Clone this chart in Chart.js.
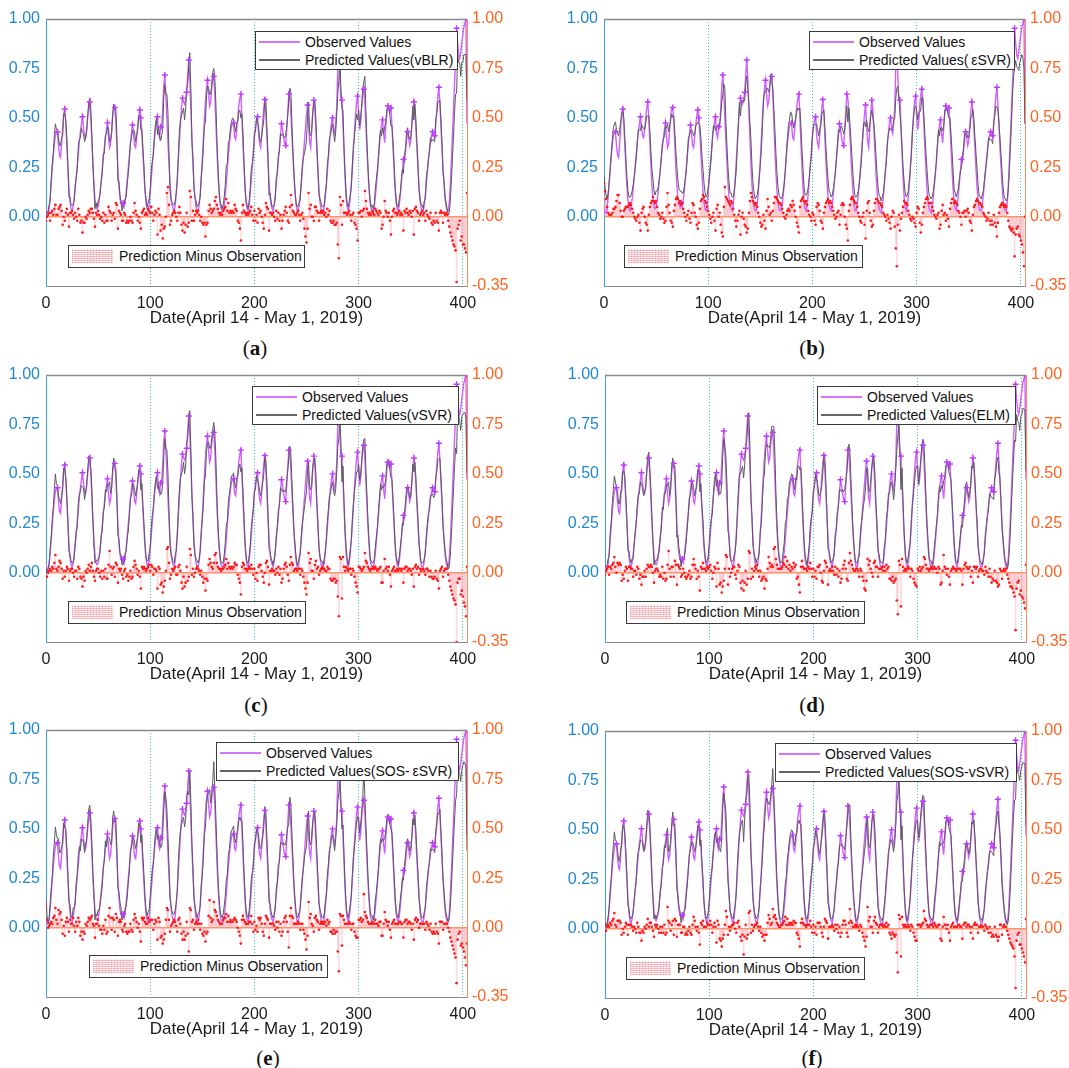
<!DOCTYPE html>
<html><head><meta charset="utf-8">
<script src="https://cdn.jsdelivr.net/npm/chart.js@4/dist/chart.umd.min.js"></script>
<style>
html,body{margin:0;padding:0;background:#fff;width:1069px;height:1068px;overflow:hidden;position:relative;}
canvas{position:absolute;}
.leg{position:absolute;background:#fff;border:1px solid #3a3a3a;box-sizing:border-box;font-family:"Liberation Sans",Arial,sans-serif;font-size:14px;color:#111;}
.row{position:absolute;left:3px;height:18px;line-height:18px;white-space:nowrap;}
.sw{display:inline-block;width:41px;height:2px;vertical-align:middle;margin-right:5px;position:relative;top:-1px;}
.hatch{display:inline-block;width:41px;height:14px;vertical-align:middle;margin-right:6px;position:relative;top:-1px;
 background-image:repeating-linear-gradient(0deg,rgba(246,160,170,0.75) 0 1px,transparent 1px 2px),repeating-linear-gradient(90deg,rgba(246,160,170,0.5) 0 1px,transparent 1px 3px);}
.cap{position:absolute;font-family:"Liberation Serif","Times New Roman",serif;font-size:21px;line-height:21px;color:#111;transform:translateX(-50%);white-space:nowrap;}
</style></head><body>
<script>
// ---------------- data ----------------
const xTicks = [0, 100, 200, 300, 400];
const leftTicks = [0, 0.25, 0.5, 0.75, 1];
const rightTicks = [-0.35, 0, 0.25, 0.5, 0.75, 1];

// observed values, hourly, one row per day (April 14 - May 1, 2019)
const observedByDay = [
[.04,.02,.02,.04,.10,.17,.24,.31,.37,.41,.43,.43,.36,.31,.30,.37,.45,.52,.545,.47,.36,.25,.15,.08],
[.04,.03,.05,.09,.14,.20,.26,.32,.38,.43,.47,.506,.45,.41,.40,.44,.50,.55,.58,.50,.38,.26,.16,.09],
[.05,.04,.05,.08,.13,.18,.24,.30,.35,.40,.44,.475,.40,.35,.37,.44,.51,.55,.553,.48,.36,.24,.15,.09],
[.07,.05,.07,.05,.08,.13,.19,.25,.31,.37,.42,.464,.42,.36,.35,.40,.46,.51,.54,.50,.42,.32,.22,.13],
[.07,.04,.03,.06,.12,.19,.26,.33,.39,.44,.48,.506,.42,.40,.455,.45,.55,.66,.717,.62,.50,.38,.27,.17],
[.10,.06,.04,.03,.06,.12,.20,.29,.38,.47,.55,.60,.58,.57,.59,.63,.72,.793,.70,.55,.40,.27,.16,.09],
[.05,.03,.03,.06,.12,.20,.29,.39,.49,.58,.65,.69,.62,.56,.58,.65,.70,.71,.62,.48,.34,.22,.13,.07],
[.04,.03,.03,.06,.11,.17,.24,.31,.37,.42,.46,.47,.475,.40,.39,.44,.50,.56,.60,.62,.50,.37,.25,.14],
[.07,.04,.03,.06,.12,.19,.26,.33,.40,.45,.49,.506,.42,.37,.35,.41,.48,.55,.593,.52,.40,.28,.18,.10],
[.06,.04,.03,.06,.11,.17,.23,.29,.35,.41,.47,.44,.40,.37,.36,.44,.53,.62,.60,.52,.41,.30,.20,.12],
[.06,.03,.03,.06,.11,.17,.24,.31,.38,.45,.52,.565,.46,.38,.35,.44,.53,.59,.54,.44,.33,.22,.13,.07],
[.04,.03,.02,.05,.10,.16,.23,.30,.37,.43,.48,.50,.44,.42,.47,.55,.76,.90,.70,.59,.59,.46,.33,.20],
[.10,.05,.03,.05,.10,.17,.25,.34,.43,.51,.58,.61,.52,.44,.48,.56,.62,.645,.58,.46,.34,.23,.14,.07],
[.04,.03,.02,.05,.10,.16,.22,.29,.36,.42,.47,.49,.42,.375,.45,.52,.56,.54,.53,.55,.46,.35,.24,.14],
[.07,.04,.03,.06,.11,.17,.23,.29,.28,.33,.39,.43,.40,.36,.38,.46,.53,.58,.53,.44,.34,.24,.15,.08],
[.04,.03,.03,.06,.11,.17,.23,.29,.34,.38,.41,.43,.41,.41,.47,.54,.61,.655,.57,.46,.35,.25,.16,.09],
[.05,.03,.03,.07,.16,.28,.41,.54,.67,.79,.953,.88,.82,.80,.83,.88,.92,.96,.98,1.00,.47]
];

// hours where the observed series carries a "+" marker
const markerHours = [11,18,35,42,59,66,74,83,90,91,107,110,114,131,135,137,155,161,180,187,203,210,226,230,233,251,257,275,280,284,299,305,323,328,331,343,347,353,371,373,377,394,403];

// prediction minus observation, per model, one row per day
const residualVBLR = [
[-.02,.00,.01,.02,-.02,.02,.03,.01,.04,.06,.01,.01,.04,.05,.06,.03,-.04,.00,-.02,.02,.04,.01,-.05,.02],
[.02,.03,.01,-.01,.02,.00,-.02,.04,.01,-.03,-.02,-.08,-.03,-.03,.00,-.01,.01,.03,.02,.04,.04,.02,-.01,-.05],
[.02,.01,.03,.01,-.01,.00,-.02,.02,-.03,.01,-.02,-.02,.05,.03,.02,-.02,.01,.02,-.01,.07,.06,-.06,.03,.02],
[.01,-.02,-.02,.02,.01,-.03,-.02,-.03,-.02,.00,-.02,-.03,.02,.07,.03,.01,-.02,.00,-.03,-.06,.02,.03,.04,.01],
[.02,.01,.04,.03,.02,.05,.02,-.02,.01,.03,.02,-.09,.04,.01,-.07,-.04,-.11,-.06,-.05,.00,.12,.15,.06,-.04],
[-.02,.01,.02,.03,.02,.00,-.02,.02,.05,.02,-.04,-.07,-.03,-.08,-.04,.02,-.05,-.03,.13,.10,-.02,.03,-.02,.01],
[.03,.02,.03,.01,-.02,.00,-.03,-.04,-.03,-.10,-.04,-.03,.03,.06,.04,.02,.03,.04,.08,.10,.06,.04,.02,.01],
[.02,.01,.03,.04,.05,.09,.03,.07,.02,.03,.02,.03,.02,.06,.04,.03,-.02,-.03,-.06,-.12,.02,.06,.03,.02],
[.01,.02,.01,.02,.03,.05,.01,-.02,.03,-.02,.01,-.03,.04,.02,.03,.00,-.03,-.06,.01,.07,.05,.04,-.07,.02],
[.02,.01,.02,.00,-.02,.03,-.01,.02,-.02,.01,-.06,-.02,.01,.03,.05,.02,-.02,-.03,.05,.11,.06,.03,.02,.01],
[.01,.02,.03,.01,-.02,.01,.02,-.01,-.06,-.10,-.13,-.06,.12,.04,.06,.00,.00,-.02,.05,.05,.03,.02,-.02,.02],
[.03,.02,.03,.01,.02,.00,.04,.01,.03,-.02,-.03,-.03,-.02,-.04,-.04,-.03,-.14,-.21,.10,.06,-.04,.08,.02,.02],
[.02,.01,.02,.03,.01,-.02,.01,.02,-.03,-.04,-.06,-.12,.02,.02,.03,.00,.03,.04,.13,.08,.04,.02,.01,.02],
[.01,.03,.02,.01,.04,.03,.02,.01,.03,.02,-.06,-.04,.00,.08,.03,.02,.00,.02,-.02,-.09,.00,.03,.04,.02],
[.02,.01,.02,.03,.01,.02,.01,-.07,.03,.02,.04,.02,.01,.03,.02,.00,.03,-.09,.04,.05,.03,.02,-.02,.01],
[.02,.03,.01,.02,-.02,.03,.01,.00,-.01,.02,-.03,-.04,-.02,-.03,.02,-.02,-.03,-.07,.02,.03,.02,-.03,.02,.01],
[.02,.01,-.02,-.05,-.08,-.10,-.12,-.14,-.15,-.17,-.33,-.06,-.04,-.02,-.12,-.10,-.14,-.14,-.16,-.18,.12]
];
const residualESVR = [
[.17,.13,.09,.05,.02,.01,.01,.01,.02,.04,.04,.05,.08,.11,.11,.07,.03,.00,.00,.03,.04,.05,.05,.05],
[.06,.07,.06,.04,.02,.00,-.01,-.02,.00,.01,-.03,-.07,.02,.04,.05,.00,-.03,-.04,-.07,.01,.05,.07,.08,.10],
[.08,.07,.08,.05,.02,.01,-.01,.00,.02,-.01,-.03,-.02,.05,.12,.06,.02,-.02,-.03,-.05,.03,.06,.09,.10,.09],
[.07,.08,.06,.07,.04,.02,.00,-.02,.01,.03,-.01,-.03,.02,.07,.06,.02,.00,-.04,-.06,-.03,.04,.08,.09,.11],
[.10,.08,.07,.05,.03,.01,-.01,-.03,.00,.02,-.02,-.07,.04,.06,.00,.02,-.04,-.08,-.10,.05,.15,.10,.09,.08],
[.07,.06,.08,.07,.04,.01,-.02,-.05,-.02,.01,.03,-.09,.00,.02,-.01,-.04,-.05,-.08,-.06,.02,.08,.12,.10,.08],
[.07,.06,.07,.05,.02,.00,-.03,-.05,-.04,.01,-.02,-.06,.03,.09,.05,.01,.02,-.02,.03,.07,.10,.10,.09,.08],
[.07,.07,.06,.04,.02,.00,-.01,.01,.03,.04,.03,.06,.05,.08,.06,.03,.00,-.03,-.05,-.08,.05,.08,.09,.10],
[.08,.07,.08,.06,.03,.01,.00,-.02,.02,.01,-.02,-.04,.05,.07,.06,.03,-.02,-.03,-.06,.02,.05,.07,.08,.09],
[.07,.08,.07,.05,.03,.01,-.01,.00,.02,.03,-.04,.01,.06,.07,.06,.00,-.04,-.06,-.12,.03,.06,.09,.10,.09],
[.08,.07,.07,.05,.02,.00,-.02,-.03,.00,.02,-.04,-.11,.03,.07,.08,.02,-.02,-.05,-.04,.03,.07,.09,.09,.08],
[.07,.07,.06,.05,.02,.01,.00,-.02,.01,-.01,-.03,-.06,.00,.03,.02,-.05,-.16,-.25,-.04,.01,-.07,-.01,.02,.05],
[.08,.07,.07,.06,.03,.01,-.01,-.02,.00,-.01,-.03,-.05,.02,.05,.04,-.03,-.08,-.04,.02,.05,.07,.09,.10,.09],
[.07,.07,.07,.05,.03,.01,.00,-.01,.01,.02,-.06,-.04,.03,.06,.01,.02,-.02,.01,-.01,-.05,.04,.07,.09,.09],
[.07,.08,.07,.06,.03,.02,.00,-.04,.02,.02,.03,.00,.03,.04,.02,-.02,-.03,-.07,.01,.05,.06,.08,.09,.08],
[.07,.07,.06,.05,.02,.01,.00,-.02,-.01,.02,-.02,-.04,-.02,-.04,.01,-.03,-.05,-.10,-.03,.02,.05,.06,.07,.06],
[.05,.06,.05,.02,-.02,-.05,-.06,-.07,-.06,-.08,-.20,-.09,-.06,-.05,-.09,-.10,-.12,-.14,-.18,-.25,.00]
];
const residualVSVR = [
[-.02,-.02,.00,.01,.02,.01,.03,.02,.05,.09,.02,.01,.03,.06,.05,.02,-.03,.01,-.02,.01,.03,.02,-.04,.01],
[.02,.02,.00,-.02,.01,.01,-.03,.03,.02,-.02,-.03,-.07,-.02,-.04,.01,.00,.02,.04,.01,.03,.05,.01,-.02,-.04],
[.01,.02,.02,.00,-.02,.01,-.03,.01,-.02,.02,-.03,-.03,.04,.11,.03,-.01,.02,.03,-.02,.05,.04,-.05,.02,.01],
[.02,-.01,-.03,.01,.02,-.02,-.01,-.04,-.02,.01,-.03,-.02,.03,.06,.04,.02,-.01,.01,-.02,-.08,.03,.02,.03,.02],
[.01,.02,.03,.04,.01,.04,.03,-.01,.02,.02,.01,-.08,.03,.02,-.06,-.05,-.10,-.07,-.04,.01,.12,.13,.05,-.03],
[-.01,.02,.01,.02,.03,-.01,-.01,.03,.04,.01,-.05,-.08,-.02,-.07,-.05,.03,-.04,-.02,.12,.09,-.01,.02,-.02,.00],
[.02,.03,.02,.01,-.01,.01,-.02,-.05,-.03,-.09,-.03,-.04,.04,.07,.05,.03,.02,.05,.09,.10,.05,.03,.02,.02],
[.01,.02,.02,.03,.04,.07,.02,.05,.03,.02,.03,.02,.03,.05,.04,.04,-.01,-.03,-.05,-.11,.03,.05,.04,.02],
[.02,.01,.02,.03,.02,.04,.02,-.01,.02,-.03,.00,-.04,.03,.04,.04,.01,-.02,-.05,.00,.05,.06,.03,-.06,.01],
[.01,.02,.01,.01,-.01,.02,.00,.03,-.01,.02,-.05,-.03,.02,.04,.05,.03,-.01,-.04,.04,.08,.05,.04,.01,.02],
[.02,.01,.02,.02,-.01,.02,.01,-.02,-.05,-.08,-.11,-.05,.10,.05,.07,.01,.01,-.03,.04,.06,.02,.03,-.01,.01],
[.02,.03,.02,.02,.01,.01,.03,.02,.02,-.03,-.04,-.04,-.03,-.03,-.05,-.04,-.12,-.22,.08,.07,-.13,.08,.03,.01],
[.03,.02,.01,.02,.02,-.01,.02,.01,-.02,-.05,-.07,-.10,.03,.03,.02,.01,.02,.03,.10,.06,.05,.03,.02,.01],
[.02,.02,.03,.02,.03,.02,.01,.02,.02,.03,-.05,-.05,.01,.07,.02,.03,.01,.03,-.01,-.07,.01,.02,.03,.01],
[.01,.02,.01,.02,.02,.01,.02,-.05,.02,.03,.03,.01,.02,.02,.01,-.01,.02,-.07,.03,.04,.02,.03,-.01,.02],
[.01,.02,.02,.01,-.01,.02,.02,.01,-.02,.01,-.02,-.03,-.03,-.02,.01,-.03,-.04,-.08,.01,.02,.03,-.02,.01,.02],
[.02,.02,-.01,-.04,-.07,-.09,-.11,-.13,-.14,-.16,-.35,-.05,-.03,-.03,-.11,-.09,-.12,-.15,-.17,-.22,.03]
];
const residualELM = [
[-.01,.01,.02,.03,-.01,.03,.02,.04,.05,.08,.03,.00,.05,.04,.05,.04,-.04,-.01,-.03,.01,.03,.02,-.04,.03],
[.03,.02,.02,-.02,.01,.01,-.01,.03,.02,-.03,-.01,-.06,-.02,-.02,.01,-.02,.02,.04,.03,.03,.04,.03,.00,-.05],
[.01,.02,.02,.01,-.02,-.01,-.02,.03,-.03,.00,-.04,-.03,.04,.11,.02,-.02,.03,.03,-.02,.06,.04,-.06,.04,.03],
[.02,-.02,-.01,.02,.00,-.02,-.03,-.02,-.01,.01,-.03,-.02,.04,.07,.04,.02,-.03,.01,-.02,-.09,.03,.02,.05,.02],
[.02,.01,.03,.02,.03,.04,.01,-.03,.00,.03,.02,-.07,.05,.02,-.06,-.05,-.10,-.07,-.04,.02,.09,.08,-.06,.02],
[-.02,.00,.02,.03,.03,-.01,-.03,.01,.04,.03,-.05,-.08,-.04,-.09,-.05,.01,-.06,-.03,.11,.10,-.03,.02,-.02,.01],
[.03,.02,.04,.01,-.02,.01,-.04,-.03,-.02,-.08,-.03,-.04,.02,.08,.05,.03,.04,.03,.12,.13,.07,.04,.02,.02],
[.02,.02,.03,.05,.04,.08,.03,.06,.02,.04,.01,.03,.02,.05,.03,.04,-.03,-.02,-.06,-.10,.03,.06,.03,.02],
[.02,.02,.01,.03,.02,.05,.02,-.02,.02,-.02,.01,-.03,.03,.03,.04,.00,-.04,-.05,.01,.06,.05,.03,-.06,.01],
[.02,.01,.03,.01,-.01,.03,-.01,.02,-.02,.01,-.05,-.03,.02,.04,.06,.02,-.03,-.04,.05,.10,.06,.04,.02,.01],
[.01,.02,.02,.01,-.02,.02,.01,-.02,-.04,-.08,-.09,-.04,.07,.04,.06,.02,.00,-.02,.05,.06,.03,.03,-.02,.02],
[.02,.02,.03,.01,.03,.01,.04,.02,.03,-.03,-.03,-.04,-.02,-.05,-.04,-.03,-.14,-.21,.06,.04,-.17,.07,.03,.01],
[.02,.01,.02,.03,.02,-.02,.02,.01,-.03,-.05,-.06,-.07,.02,.01,.03,.01,.02,.03,.08,.07,.04,.02,.02,.01],
[.02,.03,.02,.02,.03,.02,.02,.00,.03,.02,-.06,-.05,.01,.09,.03,.02,-.01,.02,-.02,-.06,.01,.02,.03,.02],
[.02,.01,.02,.02,.02,.02,.01,-.06,.02,.04,.05,.03,.02,.02,.03,-.02,.01,-.05,.03,.03,.02,.03,-.02,.01],
[.02,.02,.01,.01,-.01,.03,.01,.00,-.02,.02,-.02,-.05,-.03,-.04,.01,-.04,-.05,-.07,-.06,.02,.01,-.03,.01,.02],
[.01,.02,-.01,-.03,-.05,-.07,-.07,-.08,-.10,-.12,-.29,-.08,-.05,-.04,-.11,-.09,-.12,-.13,-.15,-.18,.04]
];
const residualSOSESVR = [
[.11,.04,.00,.01,.02,.03,.02,.05,.06,.10,.04,.02,.09,.07,.08,.04,-.03,.01,-.04,.03,.05,.03,-.02,.04],
[.02,.02,.05,.01,-.02,.03,.01,.05,.03,-.04,-.02,-.06,-.02,-.03,.02,.01,.03,.05,.04,.05,.06,.02,.01,-.05],
[.02,.02,.04,.01,-.01,-.01,-.03,.01,-.01,.04,-.03,-.02,.06,.10,.05,-.01,.05,.04,-.02,.07,.05,-.04,.03,.04],
[.03,-.01,-.02,.01,.02,-.02,-.03,-.02,-.02,.02,-.01,-.02,.04,.07,.05,.03,.00,.02,-.02,-.07,.05,.04,.05,.03],
[.02,.02,.05,.03,.04,.04,.04,-.01,.02,.04,.03,-.06,.05,.03,-.05,-.04,-.08,-.06,-.03,.04,.10,.09,.04,-.02],
[.01,.02,.03,.04,.03,.01,-.02,.04,.05,.02,-.03,-.06,-.02,-.06,-.04,.03,-.03,-.12,.10,.09,.03,.04,-.01,.02],
[.03,.02,.04,.02,-.01,.02,-.03,-.04,-.02,-.07,-.03,-.02,.06,.14,.05,.03,.04,.13,.09,.08,.06,.04,.03,.02],
[.02,.02,.04,.05,.05,.07,.03,.06,.03,.04,.03,.03,.04,.05,.04,.03,.00,-.02,-.04,-.08,.04,.06,.04,.03],
[.02,.02,.02,.03,.03,.06,.02,-.02,.03,-.01,.01,-.02,.05,.04,.05,.02,-.02,-.04,.02,.06,.05,.04,-.05,.02],
[.02,.02,.02,.01,-.01,.03,.00,.03,-.02,.02,-.04,-.02,.03,.05,.06,.03,-.02,-.10,.06,.10,.06,.05,.02,.02],
[.02,.02,.03,.02,-.01,.02,.02,-.01,-.03,-.06,-.11,-.04,.13,.05,.07,.02,.01,-.02,.05,.06,.04,.03,-.01,.02],
[.03,.02,.03,.02,.03,.01,.04,.02,.03,-.02,-.02,-.03,-.01,-.03,-.02,-.02,-.12,-.22,.07,.06,-.09,.06,.04,.02],
[.02,.02,.02,.03,.02,-.01,.02,.02,-.02,-.04,-.05,-.05,.04,.04,.05,.03,.04,.17,.08,.06,.05,.03,.02,.02],
[.02,.03,.02,.02,.04,.02,.02,.01,.03,.03,-.04,-.04,.02,.08,.04,.03,.01,.03,-.01,-.05,.02,.03,.04,.02],
[.02,.02,.02,.03,.03,.02,.02,-.05,.03,.04,.04,.02,.03,.03,.02,-.01,.02,-.06,.04,.05,.03,.04,.00,.02],
[.02,.02,.02,.02,-.01,.03,.02,.01,-.01,.02,-.02,-.03,-.02,-.03,.02,-.02,-.03,-.08,.03,.03,.03,-.01,.02,.02],
[.02,.02,.00,-.02,-.05,-.07,-.09,-.11,-.13,-.15,-.28,-.06,-.03,-.02,-.09,-.08,-.10,-.12,-.15,-.19,-.08]
];
const residualSOSVSVR = [
[-.01,-.01,.01,.02,.01,.03,.02,.04,.05,.08,.02,.01,.04,.04,.04,.03,-.03,.00,-.02,.01,.03,.02,-.03,.02],
[.02,.02,.01,-.01,.01,.00,-.02,.03,.01,-.02,-.02,-.06,-.01,-.02,.01,.00,.02,.05,.01,.03,.03,.01,-.01,-.04],
[.02,.01,.02,.00,-.02,.01,-.02,.01,-.02,.02,-.03,-.02,.11,.04,.03,-.01,.02,.04,-.03,.05,.04,-.04,.02,.02],
[.02,-.02,-.02,.01,.01,-.03,-.02,-.03,-.01,.01,-.02,-.03,.02,.06,.04,.01,-.01,.01,-.02,-.08,.03,.02,.04,.01],
[.01,.01,.03,.02,.02,.04,.02,-.02,.01,.03,.01,-.07,.04,.02,-.05,-.06,-.09,-.05,-.03,.02,.09,.06,-.03,.01],
[-.01,.01,.02,.02,.03,.00,-.02,.03,.04,.01,-.04,-.06,-.03,-.13,-.04,.02,-.05,-.03,.08,.09,-.02,.02,-.01,.01],
[.02,.02,.03,.01,-.01,.01,-.02,-.04,-.03,-.06,-.03,-.03,.03,.07,.05,.02,.03,.10,.06,.07,.05,.03,.02,.01],
[.01,.02,.02,.03,.04,.06,.02,.05,.02,.03,.02,.03,.02,.04,.03,.03,-.02,-.03,-.05,-.09,.03,.05,.03,.02],
[.02,.01,.02,.02,.02,.04,.01,-.02,.02,-.02,.01,-.03,.03,.03,.03,.01,-.02,-.04,.01,.05,.04,.03,-.05,.01],
[.01,.01,.02,.01,-.01,.02,.00,.02,-.02,.01,-.04,-.02,.02,.04,.04,.02,-.02,-.04,.03,.10,.04,.03,.01,.01],
[.02,.01,.02,.01,-.01,.02,.01,-.02,-.04,-.06,-.09,-.04,.11,.04,.06,.01,.01,-.02,.04,.06,.03,.02,-.02,.01],
[.02,.02,.02,.01,.02,.01,.03,.01,.02,-.02,-.03,-.05,-.02,-.03,-.04,-.03,-.12,-.22,.07,.05,-.14,.06,.02,.01],
[.02,.01,.01,.02,.01,-.01,.02,.01,-.02,-.04,-.06,-.06,.02,.02,.02,.01,.02,.03,.09,.05,.04,.02,.01,.01],
[.02,.02,.02,.01,.03,.02,.01,.01,.02,.02,-.05,-.06,.01,.06,.02,.02,.00,.02,-.02,-.06,.01,.02,.03,.01],
[.01,.01,.01,.02,.02,.01,.01,-.05,.02,.03,.03,.01,.02,.02,.01,-.02,.01,-.05,.02,.03,.02,.02,-.02,.01],
[.01,.02,.01,.01,-.01,.02,.01,.00,-.02,.01,-.02,-.04,-.03,-.04,.01,-.03,-.04,-.06,-.04,.02,.02,-.03,.01,.02],
[.01,.01,-.01,-.03,-.05,-.07,-.08,-.09,-.10,-.14,-.30,-.06,-.03,-.02,-.08,-.08,-.10,-.12,-.14,-.17,.05]
];

// ---------------- helpers ----------------
function flatDays(name, rows) {
  rows.forEach((r, i) => {
    const want = i < 16 ? 24 : 21;
    if (r.length !== want) throw new Error(name + ' row ' + i + ' has ' + r.length + ' values');
  });
  return rows.flat();
}
const observed = flatDays('observed', observedByDay);

const FONT = '"Liberation Sans", Arial, sans-serif';
Chart.defaults.font.family = FONT;

const topBorder = {
  id: 'topBorder',
  afterDatasetsDraw(chart) {
    const a = chart.chartArea, ctx = chart.ctx;
    ctx.save();
    ctx.strokeStyle = '#8a8a8a'; ctx.lineWidth = 1.5;
    ctx.beginPath(); ctx.moveTo(a.left, a.top + 0.5); ctx.lineTo(a.right, a.top + 0.5); ctx.stroke();
    ctx.restore();
  }
};

const panels = [
  {cap:'a', model:'vBLR',      res:residualVBLR,    cv:[0,0],    leg1:[255,31,203,39], leg2:[68,245,237,23], capPos:[255,338]},
  {cap:'b', model:'\u2009\u03B5SVR', res:residualESVR, cv:[558,0], leg1:[809,31,206,39], leg2:[624,245,239,23], capPos:[812,338]},
  {cap:'c', model:'vSVR',      res:residualVSVR,    cv:[0,356],  leg1:[252,386,207,39], leg2:[68,601,238,23], capPos:[256,695]},
  {cap:'d', model:'ELM',       res:residualELM,     cv:[559,356],leg1:[817,386,199,39], leg2:[626,601,239,23], capPos:[812,695]},
  {cap:'e', model:'SOS-\u2009\u03B5SVR', res:residualSOSESVR, cv:[0,711], leg1:[216,742,243,39], leg2:[89,955,239,23], capPos:[268,1048]},
  {cap:'f', model:'SOS-vSVR',  res:residualSOSVSVR, cv:[559,712],leg1:[775,743,242,39], leg2:[626,957,239,23], capPos:[812,1048]}
];

function build(p) {
  const res = flatDays('residual ' + p.cap, p.res);
  const cv = document.createElement('canvas');
  cv.width = 510; cv.height = 333;
  cv.style.left = p.cv[0] + 'px'; cv.style.top = p.cv[1] + 'px';
  document.body.appendChild(cv);

  const obsPts = observed.map((v, i) => ({x: i, y: v}));
  const predPts = observed.map((v, i) => ({x: i, y: Math.round((v + res[i]) * 1000) / 1000}));
  const resPts = res.map((v, i) => ({x: i, y: v}));
  const markPts = markerHours.map(h => ({x: h, y: observed[h]}));

  new Chart(cv, {
    type: 'line',
    data: { datasets: [
      { type:'bar', data: resPts, xAxisID:'x', yAxisID:'yR', backgroundColor:'rgba(250,150,160,0.35)', barThickness:1, order:10 },
      { type:'line', data: obsPts, xAxisID:'x', yAxisID:'yL', borderColor:'#d060ff', borderWidth:1.4, pointRadius:0, tension:0, order:4 },
      { type:'line', data: predPts, xAxisID:'x', yAxisID:'yL', borderColor:'#5a5a5a', borderWidth:1, pointRadius:0, tension:0, order:3 },
      { type:'scatter', data: markPts, xAxisID:'x', yAxisID:'yL', pointStyle:'cross', pointRadius:3, borderColor:'#c038ff', borderWidth:1.4, order:2 },
      { type:'scatter', data: resPts, xAxisID:'x', yAxisID:'yR', pointRadius:1.3, pointBackgroundColor:'#ff1a1a', pointBorderWidth:0, borderWidth:0, order:1 }
    ]},
    plugins: [topBorder],
    options: {
      responsive:false, animation:false, devicePixelRatio:1,
      layout:{ padding:{ top:19, left:0, right:0, bottom:0 } },
      plugins:{ legend:{display:false}, tooltip:{enabled:false} },
      scales: {
        x: { type:'linear', position:'bottom', min:0, max:404, offset:false,
             afterBuildTicks: s => { s.ticks = xTicks.map(v => ({value:v})); },
             afterFit: s => { s.height = 47; },
             grid:{ display:true, drawTicks:false, lineWidth:1, offset:false,
                    color: c => (c.tick && c.tick.value > 0) ? 'rgba(20,175,175,0.85)' : 'rgba(0,0,0,0)' },
             border:{ display:true, color:'#8a8a8a', width:1, dash:[1,2] },
             ticks:{ font:{size:16}, color:'#1a1a1a', padding:8, maxRotation:0, autoSkip:false },
             title:{ display:true, text:'Date(April 14 - May 1, 2019)', font:{size:17}, color:'#1a1a1a', padding:{top:0,bottom:4} } },
        yL:{ type:'linear', position:'left', min:-0.35, max:1,
             afterBuildTicks: s => { s.ticks = leftTicks.map(v => ({value:v})); },
             afterFit: s => { s.width = 46; },
             grid:{ display:false, drawTicks:false },
             border:{ display:true, color:'#3d9ee0', width:1 },
             ticks:{ font:{size:16}, color:'#1f88d0', padding:6, callback: v => Number(v).toFixed(2) } },
        yR:{ type:'linear', position:'right', min:-0.35, max:1,
             afterBuildTicks: s => { s.ticks = rightTicks.map(v => ({value:v})); },
             afterFit: s => { s.width = 43; },
             grid:{ display:true, drawTicks:false, lineWidth:1.5,
                    color: c => (c.tick && Math.abs(c.tick.value) < 1e-9) ? '#ff9266' : 'rgba(0,0,0,0)' },
             border:{ display:true, color:'#ff8a5c', width:1 },
             ticks:{ font:{size:16}, color:'#ff6420', padding:5, callback: v => Number(v).toFixed(2) } }
      }
    }
  });

  const l1 = document.createElement('div');
  l1.className = 'leg';
  Object.assign(l1.style, {left:p.leg1[0]+'px', top:p.leg1[1]+'px', width:p.leg1[2]+'px', height:p.leg1[3]+'px'});
  l1.innerHTML = '<div class="row" style="top:1px"><span class="sw" style="background:#d575ff"></span>Observed Values</div>' +
                 '<div class="row" style="top:19px"><span class="sw" style="background:#666"></span>Predicted Values(' + p.model + ')</div>';
  document.body.appendChild(l1);

  const l2 = document.createElement('div');
  l2.className = 'leg';
  Object.assign(l2.style, {left:p.leg2[0]+'px', top:p.leg2[1]+'px', width:p.leg2[2]+'px', height:p.leg2[3]+'px'});
  l2.innerHTML = '<div class="row" style="top:1px"><span class="hatch"></span>Prediction Minus Observation</div>';
  document.body.appendChild(l2);

  const c = document.createElement('div');
  c.className = 'cap';
  c.style.left = p.capPos[0] + 'px'; c.style.top = p.capPos[1] + 'px';
  c.innerHTML = '(<b>' + p.cap + '</b>)';
  document.body.appendChild(c);
}

panels.forEach(build);
</script>
</body></html>
